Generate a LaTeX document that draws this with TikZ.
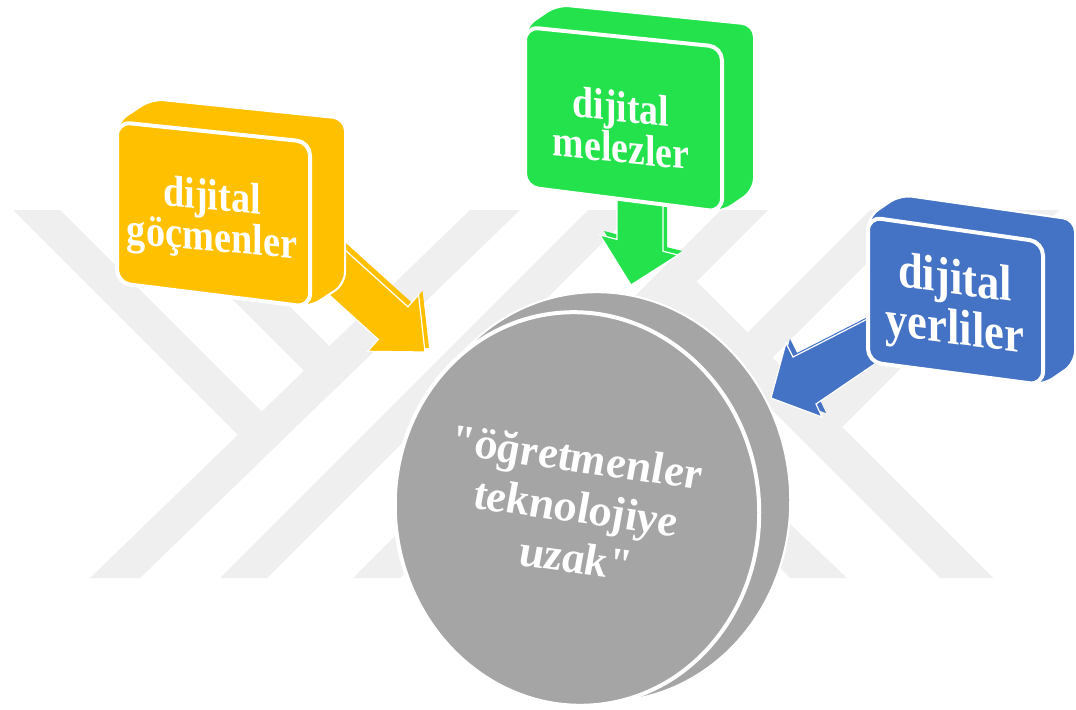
\documentclass[tikz,border=0pt]{standalone}
\usepackage{fontspec}
\setmainfont{Liberation Serif}
\newfontfamily\claimfont{Liberation Serif}[Ligatures=TeXOff]
\definecolor{wm}{RGB}{239,239,239}
\definecolor{gold}{RGB}{255,192,0}
\definecolor{leaf}{RGB}{35,226,75}
\definecolor{sky}{RGB}{68,114,196}
\definecolor{disc}{RGB}{165,165,165}
\tikzset{
  wmband/.style={fill=wm},
  boxhull/.style={draw=white, line width=1.5pt, rounded corners=9pt, line join=round},
  boxface/.style={draw=white, line width=3pt, rounded corners=10pt},
  arrowfront/.style={draw=white, line width=0.9pt, line join=miter},
  boxtext/.style={text=white, align=center, inner sep=0pt},
}
\begin{document}
\begin{tikzpicture}[x=0.75pt, y=-0.75pt]
\useasboundingbox (0,0) rectangle (1076,710);
\fill[white] (0,0) rectangle (1076,710);

% faint background emblem: diagonal bands
\fill[wmband] (90,578) -- (140,578) -- (520,210) -- (470,210) -- cycle;
\fill[wmband] (220,578) -- (267,578) -- (635,210) -- (588,210) -- cycle;
\fill[wmband] (353,578) -- (400,578) -- (768,210) -- (721,210) -- cycle;
\fill[wmband] (13,210) -- (60,210) -- (261.7,411.7) -- (237.8,434.8) -- cycle;
\fill[wmband] (143,210) -- (193,210) -- (329.3,346.3) -- (303.9,370.9) -- cycle;
\fill[wmband] (670,308) -- (696.5,281.5) -- (993,578) -- (940,578) -- cycle;
\fill[wmband] (595,383) -- (617.5,360.5) -- (847,578) -- (790,578) -- cycle;
\fill[wmband] (1012,210) -- (1059,210) -- (842,427) -- (818.5,403.5) -- cycle;
\fill[wmband] (870,210) -- (920,210) -- (772.5,357.5) -- (747.5,332.5) -- cycle;

% central disc: rim, then front face
\fill[disc, draw=white, line width=1.5pt, shift={(600,497)}, rotate=7]
  (0,0) ellipse [x radius=190, y radius=205];
\fill[disc, draw=white, line width=3pt, shift={(577,509)}, rotate=7]
  (0,0) ellipse [x radius=182, y radius=197];
\node[boxtext, yslant=-0.14, font=\claimfont\fontsize{34}{38}\selectfont\bfseries\itshape]
  (claim) at (576,507) {"öğretmenler\\teknolojiye\\uzak"};

% block arrows (thin extruded back copy, then front face)
\fill[gold, shift={(4,-4)}] (313.8,221.7) -- (407.9,306.8) -- (418.6,294.9) -- (425,352)
  -- (367.6,351.3) -- (378.3,339.4) -- (284.2,254.3) -- cycle;
\fill[gold, arrowfront] (313.8,221.7) -- (407.9,306.8) -- (418.6,294.9) -- (425,352)
  -- (367.6,351.3) -- (378.3,339.4) -- (284.2,254.3) -- cycle;

\fill[leaf, shift={(4,-4)}] (617,180) -- (617,239.4) -- (600,235) -- (631,285)
  -- (678,255) -- (663,251.2) -- (663,180) -- cycle;
\fill[leaf, arrowfront] (617,180) -- (617,239.4) -- (600,235) -- (631,285)
  -- (678,255) -- (663,251.2) -- (663,180) -- cycle;

\fill[sky, shift={(4,-4)}] (891,307) -- (793,357) -- (786,343) -- (771,398)
  -- (822,417) -- (816,404) -- (907,342) -- cycle;
\fill[sky, arrowfront] (891,307) -- (793,357) -- (786,343) -- (771,398)
  -- (822,417) -- (816,404) -- (907,342) -- cycle;

% orange box
\fill[gold, boxhull] (117,122) -- (152,99) -- (345,119) -- (345,284) -- (310,307) -- (117,283) -- cycle;
\fill[gold, boxface] (117,122) -- (310,142) -- (310,307) -- (117,283) -- cycle;
\node[boxtext, yslant=-0.09, xscale=0.87, font=\fontsize{33}{31}\selectfont\bfseries]
  (migrants) at (212,220) {dijital\\göçmenler};

% green box
\fill[leaf, boxhull] (525,27) -- (557,5) -- (754,25) -- (754,190) -- (722,212) -- (525,187) -- cycle;
\fill[leaf, boxface] (525,27) -- (722,47) -- (722,212) -- (525,187) -- cycle;
\node[boxtext, yslant=-0.1, xscale=0.86, font=\fontsize{33}{29.5}\selectfont\bfseries]
  (hybrids) at (621,127) {dijital\\melezler};

% blue box
\fill[sky, boxhull] (868,217) -- (900,195) -- (1075,220) -- (1075,363) -- (1043,385) -- (868,362) -- cycle;
\fill[sky, boxface] (868,217) -- (1043,242) -- (1043,385) -- (868,362) -- cycle;
\node[boxtext, yslant=-0.13, xscale=0.88, font=\fontsize{38}{37.5}\selectfont\bfseries]
  (natives) at (955,307) {dijital\\yerliler};
\end{tikzpicture}
\end{document}
